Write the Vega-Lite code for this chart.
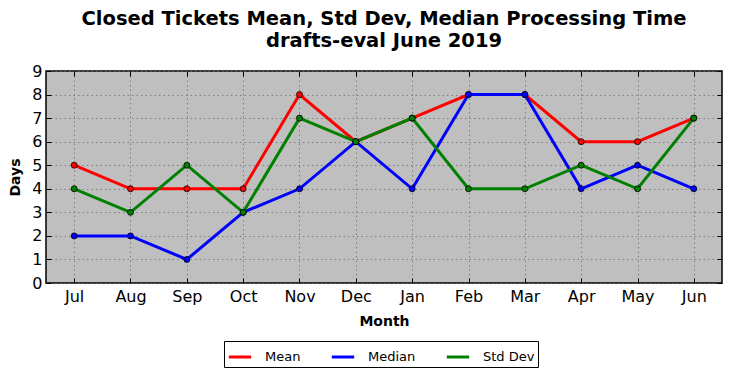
{
  "$schema": "https://vega.github.io/schema/vega-lite/v6.json",
  "width": 676,
  "height": 212,
  "padding": {"left": 8, "top": 8, "right": 8, "bottom": 5},
  "title": {
    "text": ["Closed Tickets Mean, Std Dev, Median Processing Time", "drafts-eval June 2019"],
    "font": "DejaVu Sans",
    "fontSize": 19.5,
    "fontWeight": "bold",
    "color": "black",
    "lineHeight": 22,
    "offset": 12
  },
  "config": {
    "font": "DejaVu Sans",
    "view": {"fill": "#bfbfbf", "stroke": "black", "strokeWidth": 1.5},
    "axis": {
      "labelFont": "DejaVu Sans",
      "labelFontSize": 16,
      "labelColor": "black",
      "titleFont": "DejaVu Sans",
      "titleFontSize": 14,
      "titleFontWeight": "bold",
      "titleColor": "black",
      "domain": false,
      "tickColor": "black",
      "tickSize": -5,
      "grid": true,
      "gridColor": "#6e6e6e",
      "gridDash": [1.5, 3],
      "gridWidth": 0.8,
      "labelPadding": 10,
      "labelOverlap": false
    }
  },
  "data": {
    "values": [
      {"month": "Jul", "series": "Mean", "days": 5},
      {"month": "Aug", "series": "Mean", "days": 4},
      {"month": "Sep", "series": "Mean", "days": 4},
      {"month": "Oct", "series": "Mean", "days": 4},
      {"month": "Nov", "series": "Mean", "days": 8},
      {"month": "Dec", "series": "Mean", "days": 6},
      {"month": "Jan", "series": "Mean", "days": 7},
      {"month": "Feb", "series": "Mean", "days": 8},
      {"month": "Mar", "series": "Mean", "days": 8},
      {"month": "Apr", "series": "Mean", "days": 6},
      {"month": "May", "series": "Mean", "days": 6},
      {"month": "Jun", "series": "Mean", "days": 7},
      {"month": "Jul", "series": "Median", "days": 2},
      {"month": "Aug", "series": "Median", "days": 2},
      {"month": "Sep", "series": "Median", "days": 1},
      {"month": "Oct", "series": "Median", "days": 3},
      {"month": "Nov", "series": "Median", "days": 4},
      {"month": "Dec", "series": "Median", "days": 6},
      {"month": "Jan", "series": "Median", "days": 4},
      {"month": "Feb", "series": "Median", "days": 8},
      {"month": "Mar", "series": "Median", "days": 8},
      {"month": "Apr", "series": "Median", "days": 4},
      {"month": "May", "series": "Median", "days": 5},
      {"month": "Jun", "series": "Median", "days": 4},
      {"month": "Jul", "series": "Std Dev", "days": 4},
      {"month": "Aug", "series": "Std Dev", "days": 3},
      {"month": "Sep", "series": "Std Dev", "days": 5},
      {"month": "Oct", "series": "Std Dev", "days": 3},
      {"month": "Nov", "series": "Std Dev", "days": 7},
      {"month": "Dec", "series": "Std Dev", "days": 6},
      {"month": "Jan", "series": "Std Dev", "days": 7},
      {"month": "Feb", "series": "Std Dev", "days": 4},
      {"month": "Mar", "series": "Std Dev", "days": 4},
      {"month": "Apr", "series": "Std Dev", "days": 5},
      {"month": "May", "series": "Std Dev", "days": 4},
      {"month": "Jun", "series": "Std Dev", "days": 7}
    ]
  },
  "layer": [
    {
      "encoding": {
        "x": {
          "field": "month",
          "type": "ordinal",
          "sort": ["Jul", "Aug", "Sep", "Oct", "Nov", "Dec", "Jan", "Feb", "Mar", "Apr", "May", "Jun"],
          "scale": {"type": "point", "padding": 0.5},
          "axis": {"title": "Month", "labelAngle": 0, "titlePadding": 10, "orient": "bottom"}
        },
        "y": {
          "field": "days",
          "type": "quantitative",
          "scale": {"domain": [0, 9], "nice": false},
          "axis": {"title": "Days", "values": [0, 1, 2, 3, 4, 5, 6, 7, 8, 9], "labelPadding": 9, "titlePadding": 9, "orient": "left"}
        },
        "color": {
          "field": "series",
          "type": "nominal",
          "scale": {"domain": ["Mean", "Median", "Std Dev"], "range": ["#ff0000", "#0000ff", "#008000"]},
          "legend": {
            "title": null,
            "orient": "none",
            "legendX": 178,
            "legendY": 270,
            "direction": "horizontal",
            "symbolType": "stroke",
            "symbolStrokeWidth": 3,
            "symbolSize": 500,
            "labelFont": "DejaVu Sans",
            "labelFontSize": 13,
            "labelColor": "black",
            "labelOffset": 12,
            "columnPadding": 24,
            "strokeColor": "black",
            "padding": 3,
            "fillColor": "white"
          }
        }
      },
      "layer": [
        {"mark": {"type": "line", "strokeWidth": 3}},
        {"mark": {"type": "point", "filled": true, "size": 36, "stroke": "black", "strokeWidth": 0.8, "opacity": 1}}
      ]
    },
    {
      "mark": {"type": "point", "opacity": 0},
      "encoding": {
        "x": {
          "field": "month",
          "type": "ordinal",
          "sort": ["Jul", "Aug", "Sep", "Oct", "Nov", "Dec", "Jan", "Feb", "Mar", "Apr", "May", "Jun"],
          "axis": {"orient": "top", "title": null, "labels": false, "grid": false}
        },
        "y": {
          "field": "days",
          "type": "quantitative",
          "axis": {"orient": "right", "title": null, "labels": false, "grid": false, "values": [0, 1, 2, 3, 4, 5, 6, 7, 8, 9]}
        }
      }
    }
  ],
  "resolve": {"axis": {"x": "independent", "y": "independent"}}
}
